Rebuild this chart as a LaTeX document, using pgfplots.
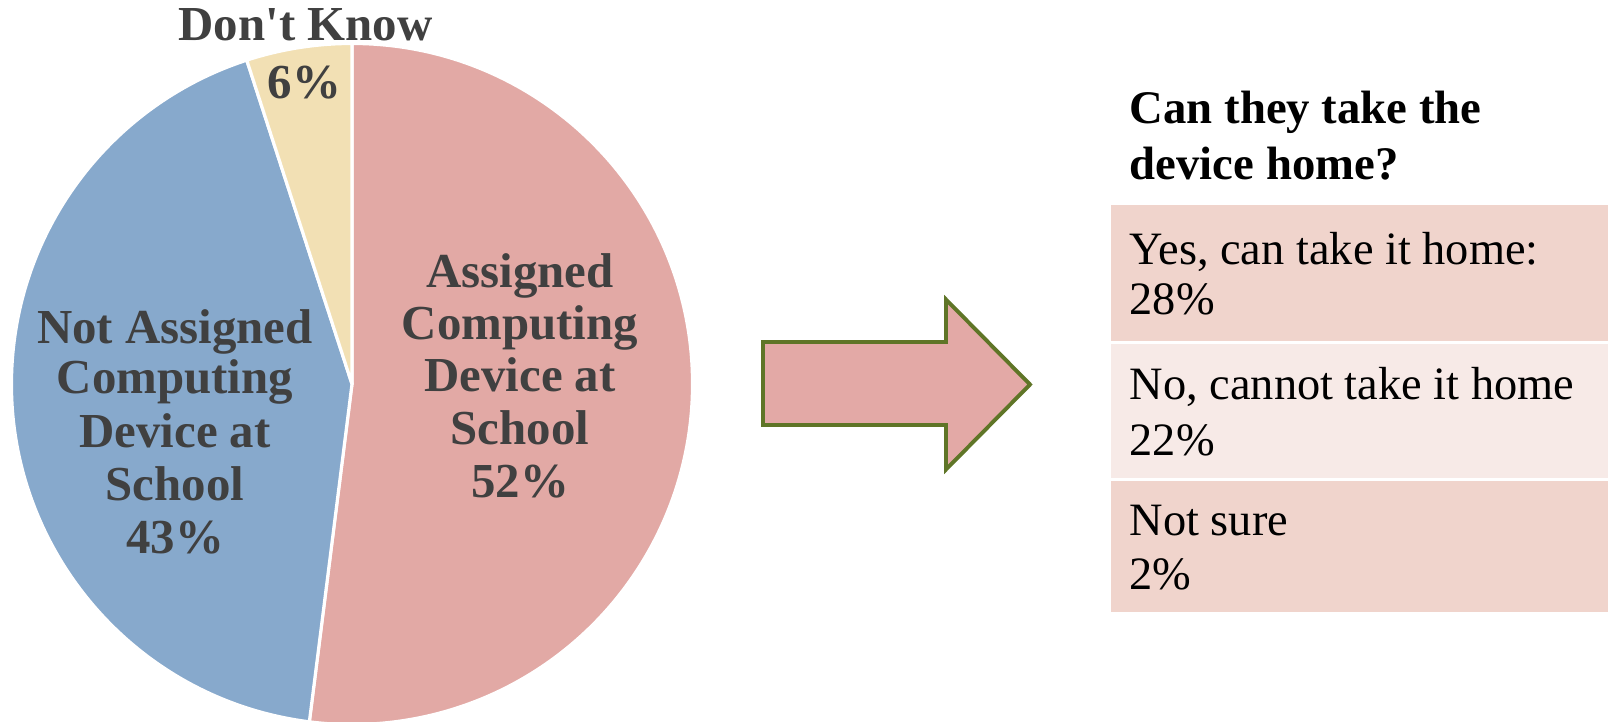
\documentclass[border=0pt]{standalone}
\usepackage{pgfplots}
\usepackage{pgfplotstable}
\pgfplotsset{compat=1.18}
\usepackage{fontspec}
\setmainfont{Liberation Serif}
\newfontfamily\nomap{Liberation Serif}
\definecolor{pieA}{HTML}{E2A9A5}
\definecolor{pieB}{HTML}{87A9CC}
\definecolor{pieC}{HTML}{F2E0B4}
\definecolor{tabA}{HTML}{F0D4CC}
\definecolor{tabB}{HTML}{F7EAE7}
\definecolor{arrowfill}{HTML}{E3A9A6}
\definecolor{arrowline}{HTML}{5F7527}
\definecolor{labgray}{HTML}{404040}
\newcommand\pielab{\fontsize{13.9}{15.4}\selectfont\bfseries}
\newcommand\tabtitle{\fontsize{13.3}{15.4}\selectfont\bfseries}
\newcommand\tabtext{\fontsize{13.2}{15.4}\selectfont}

\pgfplotstableread{
label value
Assigned 52
NotAssigned 43
DontKnow 5
}\piedata

\begin{document}
\begin{tikzpicture}
\pgfplotstablegetelem{0}{value}\of\piedata \let\va\pgfplotsretval
\pgfplotstablegetelem{1}{value}\of\piedata \let\vb\pgfplotsretval
\pgfplotstablegetelem{2}{value}\of\piedata \let\vc\pgfplotsretval
\pgfmathsetmacro\total{\va+\vb+\vc}
\pgfmathsetmacro\aA{90}
\pgfmathsetmacro\aB{90-360*(\va/\total)}
\pgfmathsetmacro\aC{\aB-360*(\vb/\total)}
\pgfmathsetmacro\aD{\aC-360*(\vc/\total)}
\def\R{3.405cm}
\begin{axis}[
  scale only axis, width=16.08cm, height=7.22cm,
  xmin=0, xmax=1608, ymin=0, ymax=722, y dir=reverse,
  hide axis, clip=true,
]
% pie slices
\fill[pieA, draw=white, line width=0.9pt, line join=round] (axis cs:352,384) -- ++(\aA:\R) arc[start angle=\aA, end angle=\aB, radius=\R] -- cycle;
\fill[pieB, draw=white, line width=0.9pt, line join=round] (axis cs:352,384) -- ++(\aB:\R) arc[start angle=\aB, end angle=\aC, radius=\R] -- cycle;
\fill[pieC, draw=white, line width=0.9pt, line join=round] (axis cs:352,384) -- ++(\aC:\R) arc[start angle=\aC, end angle=\aD, radius=\R] -- cycle;
% pie labels
\node[anchor=base, font=\pielab, text=labgray] at (axis cs:520,287.1) {Assigned};
\node[anchor=base, font=\pielab, text=labgray] at (axis cs:520,339.4) {Computing};
\node[anchor=base, font=\pielab, text=labgray] at (axis cs:520,391.7) {Device at};
\node[anchor=base, font=\pielab, text=labgray] at (axis cs:520,444.0) {School};
\node[anchor=base, font=\pielab, text=labgray] at (axis cs:520,497.4) {52\%};
\node[anchor=base, font=\pielab, text=labgray] at (axis cs:175,343.5) {Not Assigned};
\node[anchor=base, font=\pielab, text=labgray] at (axis cs:175,393.8) {Computing};
\node[anchor=base, font=\pielab, text=labgray] at (axis cs:175,447.1) {Device at};
\node[anchor=base, font=\pielab, text=labgray] at (axis cs:175,500.4) {School};
\node[anchor=base, font=\pielab, text=labgray] at (axis cs:175,553.8) {43\%};
\node[anchor=base, font=\pielab, text=labgray] at (axis cs:305.6,41) {Don{\nomap '}t Know};
\node[anchor=base, font=\pielab, text=labgray] at (axis cs:304.6,98.4) {6\%};
% arrow
\filldraw[fill=arrowfill, draw=arrowline, line width=1.1pt, line join=miter]
  (axis cs:763,342) -- (axis cs:946,342) -- (axis cs:946,299.5) -- (axis cs:1030,384.5)
  -- (axis cs:946,469.5) -- (axis cs:946,425) -- (axis cs:763,425) -- cycle;
% table boxes
\fill[tabA] (axis cs:1111,205) rectangle (axis cs:1608,341.5);
\fill[tabB] (axis cs:1111,344.5) rectangle (axis cs:1608,478);
\fill[tabA] (axis cs:1111,481) rectangle (axis cs:1608,612);
% table text
\node[anchor=base west, inner sep=0pt, font=\tabtitle, text=black] at (axis cs:1129,123.1) {Can they take the};
\node[anchor=base west, inner sep=0pt, font=\tabtitle, text=black] at (axis cs:1129,179.5) {device home?};
\node[anchor=base west, inner sep=0pt, font=\tabtext, text=black] at (axis cs:1129,264.6) {Yes, can take it home:};
\node[anchor=base west, inner sep=0pt, font=\tabtext, text=black] at (axis cs:1129,314.8) {28\%};
\node[anchor=base west, inner sep=0pt, font=\tabtext, text=black] at (axis cs:1129,400) {No, cannot take it home};
\node[anchor=base west, inner sep=0pt, font=\tabtext, text=black] at (axis cs:1129,455.3) {22\%};
\node[anchor=base west, inner sep=0pt, font=\tabtext, text=black] at (axis cs:1129,535.3) {Not sure};
\node[anchor=base west, inner sep=0pt, font=\tabtext, text=black] at (axis cs:1129,589.7) {2\%};
\end{axis}
\pgfresetboundingbox
\useasboundingbox (0,0) rectangle (16.08cm,7.22cm);
\end{tikzpicture}
\end{document}
